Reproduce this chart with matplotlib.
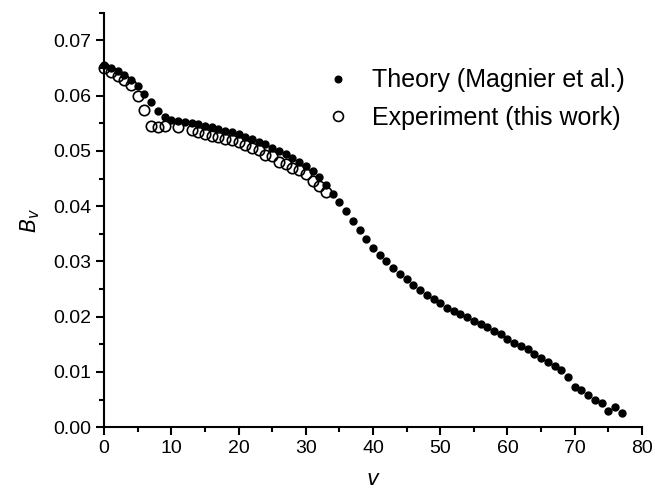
import numpy as np
import matplotlib.pyplot as plt
from matplotlib.ticker import MultipleLocator, FormatStrFormatter

plt.rcParams['font.family'] = ['Liberation Sans', 'DejaVu Sans']

# theory (Magnier et al.), v = 0..77
theory_v = np.arange(0, 78)
theory_b = [0.0656, 0.0651, 0.0645, 0.0638, 0.0629, 0.0618, 0.0604, 0.0588, 0.0572, 0.0562,
            0.0556, 0.0554, 0.0552, 0.0550, 0.0548, 0.0546, 0.0543, 0.0540, 0.0537, 0.0534,
            0.0530, 0.0526, 0.0522, 0.0517, 0.0512, 0.0506, 0.0500, 0.0494, 0.0487, 0.0480,
            0.0472, 0.0463, 0.0453, 0.0439, 0.0422, 0.0407, 0.0391, 0.0374, 0.0357, 0.0340,
            0.0325, 0.0311, 0.0300, 0.0289, 0.0278, 0.0268, 0.0257, 0.0248, 0.0240, 0.0232,
            0.0224, 0.0216, 0.0210, 0.0204, 0.0199, 0.0193, 0.0187, 0.0181, 0.0174, 0.0168,
            0.0160, 0.0153, 0.0147, 0.0141, 0.0133, 0.0125, 0.0118, 0.0110, 0.0103, 0.0090,
            0.0073, 0.0067, 0.0059, 0.0050, 0.0044, 0.0029, 0.0036, 0.0025]

# experiment (this work)
exp_v = [0, 1, 2, 3, 4, 5, 6, 7, 8, 9, 11, 13, 14, 15, 16, 17, 18, 19, 20, 21, 22,
         23, 24, 25, 26, 27, 28, 29, 30, 31, 32, 33]
exp_b = [0.0650, 0.0643, 0.0636, 0.0628, 0.0620, 0.0600, 0.0575, 0.0546, 0.0544, 0.0545,
         0.0543, 0.0538, 0.0534, 0.0531, 0.0528, 0.0525, 0.0522, 0.0519, 0.0516, 0.0511,
         0.0506, 0.0501, 0.0492, 0.0490, 0.0480, 0.0476, 0.0470, 0.0465, 0.0458, 0.0446,
         0.0437, 0.0426]

fig = plt.figure(figsize=(6.55, 4.95), dpi=100)
ax = fig.add_axes([0.159, 0.137, 0.821, 0.837])

ax.plot(theory_v, theory_b, 'o', color='black', markersize=5, clip_on=False,
        label='Theory (Magnier et al.)')
ax.plot(exp_v, exp_b, 'o', markerfacecolor='none', markeredgecolor='black',
        markersize=7.5, markeredgewidth=1.2, clip_on=False, label='Experiment (this work)')

ax.set_xlim(0, 80)
ax.set_ylim(0, 0.075)
ax.xaxis.set_major_locator(MultipleLocator(10))
ax.xaxis.set_minor_locator(MultipleLocator(5))
ax.yaxis.set_major_locator(MultipleLocator(0.01))
ax.yaxis.set_minor_locator(MultipleLocator(0.005))
ax.yaxis.set_major_formatter(FormatStrFormatter('%.2f'))

for s in ['top', 'right']:
    ax.spines[s].set_visible(False)
for s in ['left', 'bottom']:
    ax.spines[s].set_linewidth(1.5)
ax.tick_params(which='major', direction='out', length=6, width=1.5, labelsize=14)
ax.tick_params(which='minor', direction='out', length=3.5, width=1.5)

ax.set_xlabel('$\\mathit{v}$', fontsize=15, labelpad=9)
ax.set_ylabel('$B_v$', fontsize=15, labelpad=8)

ax.legend(loc='upper left', bbox_to_anchor=(0.412, 0.866), frameon=False, fontsize=18,
          borderpad=0, borderaxespad=0, handlelength=1.0, handletextpad=0.86,
          labelspacing=0.55, markerscale=0.95)

plt.savefig('out.png')
